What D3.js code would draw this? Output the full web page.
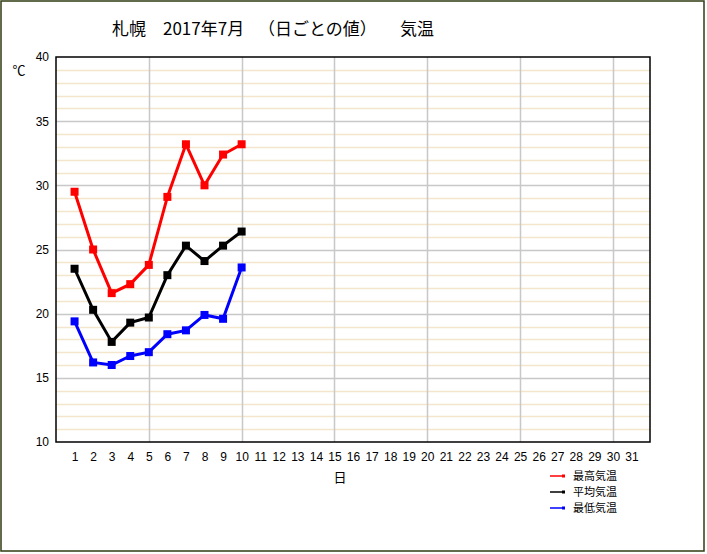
<!DOCTYPE html>
<html>
<head>
<meta charset="utf-8">
<script src="https://cdn.jsdelivr.net/npm/d3@7"></script>
<style>
  body { margin: 0; background: #fff; }
  text { font-family: "Noto Sans CJK JP", "DejaVu Sans", sans-serif; fill: #000; }
</style>
</head>
<body>
<div id="chart"></div>
<script>
// 札幌 2017年7月 日ごとの気温 (1日〜10日)
const DAYS = [1, 2, 3, 4, 5, 6, 7, 8, 9, 10];
const MAX_TEMP = [29.5, 25.0, 21.6, 22.3, 23.8, 29.1, 33.2, 30.0, 32.4, 33.2];
const AVG_TEMP = [23.5, 20.3, 17.8, 19.3, 19.7, 23.0, 25.3, 24.1, 25.3, 26.4];
const MIN_TEMP = [19.4, 16.2, 16.0, 16.7, 17.0, 18.4, 18.7, 19.9, 19.6, 23.6];
const X_TICKS = d3.range(1, 32);
const Y_TICKS = [10, 15, 20, 25, 30, 35, 40];
const TITLE_PARTS = ["札幌", "2017年7月", "（日ごとの値）", "気温"];
const SERIES = [
    { name: "最高気温", values: MAX_TEMP, color: "#ff0000" },
    { name: "平均気温", values: AVG_TEMP, color: "#000000" },
    { name: "最低気温", values: MIN_TEMP, color: "#0000ff" }
];

const WIDTH = 707;
const HEIGHT = 554;
const svg = d3.select("#chart").append("svg")
    .attr("width", WIDTH).attr("height", HEIGHT);

// marco exterior
svg.append("rect")
    .attr("x", 1).attr("y", 1).attr("width", 703).attr("height", 550)
    .attr("fill", "#fff").attr("stroke", "#2f3d12").attr("stroke-width", 1.5);

const plot = { left: 56, right: 650, top: 57, bottom: 442 };
const x = d3.scaleLinear().domain([0, 32]).range([plot.left, plot.right]);
const y = d3.scaleLinear().domain([10, 40]).range([plot.bottom, plot.top]);

// título (cada parte en su posición)
const titleX = [112, 163, 258, 400];
svg.append("g").selectAll("text")
    .data(TITLE_PARTS)
    .enter().append("text")
    .attr("x", (d, i) => titleX[i]).attr("y", 35)
    .style("font-size", "17px")
    .text(d => d);

// grilla menor (cada 1 grado)
svg.append("g").selectAll("line")
    .data(d3.range(11, 40).filter(v => v % 5 !== 0))
    .enter().append("line")
    .attr("x1", plot.left).attr("x2", plot.right)
    .attr("y1", d => Math.round(y(d)) + 0.5).attr("y2", d => Math.round(y(d)) + 0.5)
    .attr("stroke", "#f3e6cc").attr("stroke-width", 1.5);

// grilla mayor
svg.append("g").selectAll("line")
    .data([15, 20, 25, 30, 35])
    .enter().append("line")
    .attr("x1", plot.left).attr("x2", plot.right)
    .attr("y1", d => Math.round(y(d)) + 0.5).attr("y2", d => Math.round(y(d)) + 0.5)
    .attr("stroke", "#c8c8c8").attr("stroke-width", 1.5);

svg.append("g").selectAll("line")
    .data([5, 10, 15, 20, 25, 30])
    .enter().append("line")
    .attr("x1", d => Math.round(x(d)) + 0.5).attr("x2", d => Math.round(x(d)) + 0.5)
    .attr("y1", plot.top).attr("y2", plot.bottom)
    .attr("stroke", "#c8c8c8").attr("stroke-width", 1.5);

// borde del área
svg.append("rect")
    .attr("x", plot.left).attr("y", plot.top)
    .attr("width", plot.right - plot.left).attr("height", plot.bottom - plot.top)
    .attr("fill", "none").attr("stroke", "#000").attr("stroke-width", 1.5);

// ejes (solo etiquetas)
const yAxis = d3.axisLeft(y).tickValues(Y_TICKS).tickSize(0).tickPadding(7);
svg.append("g")
    .attr("transform", `translate(${plot.left},0)`)
    .call(yAxis)
    .call(g => g.select(".domain").remove())
    .call(g => g.selectAll("text").style("font-size", "12px")
        .style("font-family", "'Liberation Sans', Arial, sans-serif"));

const xAxis = d3.axisBottom(x).tickValues(X_TICKS).tickSize(0).tickPadding(10);
svg.append("g")
    .attr("transform", `translate(0,${plot.bottom})`)
    .call(xAxis)
    .call(g => g.select(".domain").remove())
    .call(g => g.selectAll("text").style("font-size", "12px")
        .style("font-family", "'Liberation Sans', Arial, sans-serif"));

svg.append("text")
    .attr("x", 19).attr("y", 75)
    .attr("text-anchor", "middle")
    .style("font-size", "13px")
    .text("℃");

svg.append("text")
    .attr("x", x(15.3)).attr("y", 482)
    .attr("text-anchor", "middle")
    .style("font-size", "13px")
    .text("日");

// series
const line = d3.line()
    .x((d, i) => x(DAYS[i]))
    .y(d => y(d));

SERIES.forEach(s => {
    svg.append("path")
        .datum(s.values)
        .attr("d", line)
        .attr("fill", "none")
        .attr("stroke", s.color)
        .attr("stroke-width", 3);

    svg.append("g").selectAll("rect")
        .data(s.values)
        .enter().append("rect")
        .attr("x", (d, i) => x(DAYS[i]) - 4)
        .attr("y", d => y(d) - 4)
        .attr("width", 8).attr("height", 8)
        .attr("fill", s.color);
});

// leyenda
const legend = svg.append("g").attr("transform", "translate(550,476)");
SERIES.forEach((s, i) => {
    const row = legend.append("g").attr("transform", `translate(0,${i * 16})`);
    row.append("line")
        .attr("x1", 0).attr("x2", 14).attr("y1", 0).attr("y2", 0)
        .attr("stroke", s.color).attr("stroke-width", 1.5);
    row.append("rect")
        .attr("x", 12).attr("y", -1.5).attr("width", 3).attr("height", 3)
        .attr("fill", s.color);
    row.append("text")
        .attr("x", 23).attr("y", 4)
        .style("font-size", "11px")
        .text(s.name);
});
</script>
</body>
</html>
